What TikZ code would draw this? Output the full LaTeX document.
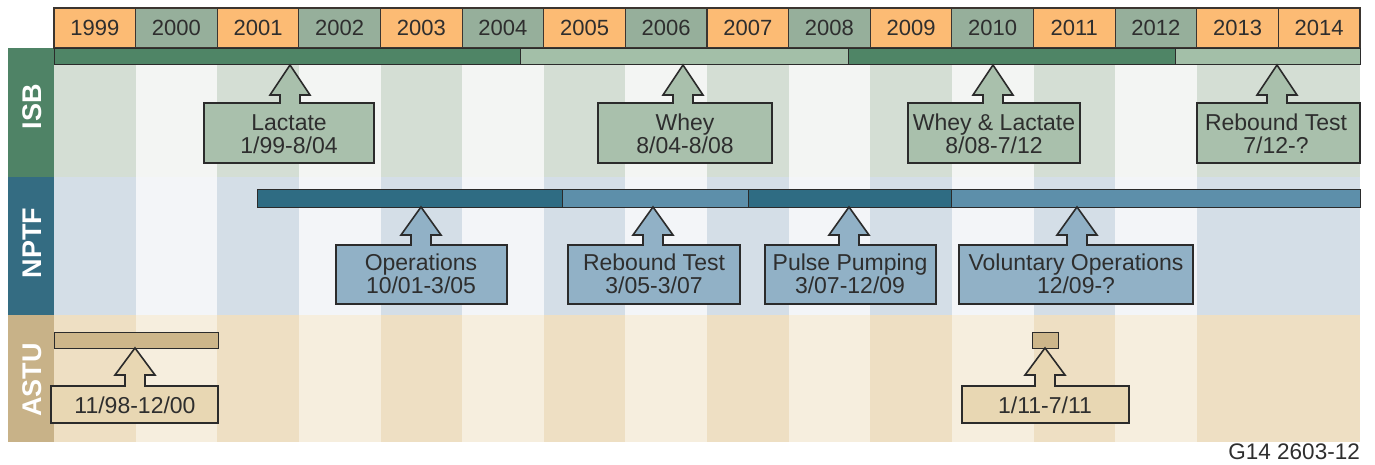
\documentclass[tikz,border=0pt]{standalone}
\usepackage{fontspec}
\setmainfont{Liberation Sans}
\definecolor{yo}{HTML}{FCBB74}
\definecolor{yg}{HTML}{96AF9B}
\definecolor{hdrline}{HTML}{3B3530}
\definecolor{outl}{HTML}{2B2B2B}
\definecolor{txt}{HTML}{2E2E2E}
\definecolor{isblab}{HTML}{4F8366}
\definecolor{nptflab}{HTML}{346C82}
\definecolor{astulab}{HTML}{C8B288}
\definecolor{isbdark}{HTML}{4F8566}
\definecolor{isblight}{HTML}{A3BFA8}
\definecolor{isbcall}{HTML}{A9C0AC}
\definecolor{nptfdark}{HTML}{2F6C83}
\definecolor{nptflight}{HTML}{5D8FAA}
\definecolor{nptfcall}{HTML}{91B1C6}
\definecolor{astubar}{HTML}{CDB68A}
\definecolor{astucall}{HTML}{E8D7B3}
\definecolor{isbS}{HTML}{D4DED4}
\definecolor{isbL}{HTML}{F3F5F3}
\definecolor{nptfS}{HTML}{D4DEE7}
\definecolor{nptfL}{HTML}{F3F5F8}
\definecolor{astuS}{HTML}{EEDFC3}
\definecolor{astuL}{HTML}{F6EEDE}
\tikzset{
  yearcell/.style={draw=hdrline, line width=1.2pt, inner sep=0pt,
    minimum width=81.625pt, minimum height=40pt, text=txt,
    font=\fontsize{22}{24}\selectfont},
  barseg/.style={draw=outl, line width=1pt},
  callout/.style={draw=outl, line width=1.6pt, line join=miter},
  ctext/.style={inner sep=0pt, align=center, text=txt,
    font=\fontsize{23}{22.5}\selectfont},
  sidelab/.style={rotate=90, text=white, inner sep=0pt,
    font=\fontsize{27}{29}\selectfont\bfseries}
}
\newcommand\mycallout[8]{%
  \draw[callout,fill=#8] (#1,#3) -- (#5-10,#3) -- (#5-10,#7) -- (#5-20,#7)
    -- (#5,#6) -- (#5+20,#7) -- (#5+10,#7) -- (#5+10,#3) -- (#2,#3)
    -- (#2,#4) -- (#1,#4) -- cycle;}
\begin{document}
\begin{tikzpicture}[x=1pt,y=-1pt]
\useasboundingbox (0,0) rectangle (1375,465);
\fill[white] (0,0) rectangle (1375,465);
% stripes
\foreach \s [count=\i from 0] in {S,L,S,L,S,L,S,L,S,L,S,L,S,L,S,S} {
  \pgfmathsetmacro\xl{54+\i*81.625}
  \pgfmathsetmacro\xr{54+(\i+1)*81.625}
  \fill[isb\s] (\xl,48) rectangle (\xr,177);
  \fill[nptf\s] (\xl,177) rectangle (\xr,315);
  \fill[astu\s] (\xl,315) rectangle (\xr,442);
}
% side labels
\fill[isblab] (8,48) rectangle (54,177);
\fill[nptflab] (8,177) rectangle (54,315);
\fill[astulab] (8,315) rectangle (54,442);
\node[sidelab] (lisb) at (32,107) {ISB};
\node[sidelab] (lnptf) at (32,243) {NPTF};
\node[sidelab] (lastu) at (32,380) {ASTU};
% header
\foreach \yr/\c [count=\i from 0] in {1999/yo,2000/yg,2001/yo,2002/yg,2003/yo,2004/yg,2005/yo,2006/yg,2007/yo,2008/yg,2009/yo,2010/yg,2011/yo,2012/yg,2013/yo,2014/yo} {
  \pgfmathsetmacro\xc{54+(\i+0.5)*81.625}
  \node[yearcell, fill=\c] (y\yr) at (\xc,28) {\yr};
}
% ISB bars
\draw[barseg, fill=isbdark] (54,49) rectangle (520,65);
\draw[barseg, fill=isblight] (520,49) rectangle (848,65);
\draw[barseg, fill=isbdark] (848,49) rectangle (1175,65);
\draw[barseg, fill=isblight] (1175,49) rectangle (1360,65);
% NPTF bars
\draw[barseg, fill=nptfdark] (257,190) rectangle (562,207);
\draw[barseg, fill=nptflight] (562,190) rectangle (748,207);
\draw[barseg, fill=nptfdark] (748,190) rectangle (951,207);
\draw[barseg, fill=nptflight] (951,190) rectangle (1360,207);
% ASTU bars
\draw[barseg, fill=astubar] (54,332) rectangle (218,348);
\draw[barseg, fill=astubar] (1032,332) rectangle (1058,348);
% ISB callouts
\mycallout{204}{374}{103}{163}{290}{65}{95}{isbcall}
\node[ctext] (c1) at (289,134) {Lactate\\1/99-8/04};
\mycallout{598}{772}{103}{163}{683}{65}{95}{isbcall}
\node[ctext] (c2) at (685,134) {Whey\\8/04-8/08};
\mycallout{908}{1080}{103}{163}{993}{65}{95}{isbcall}
\node[ctext] (c3) at (994,134) {Whey \& Lactate\\8/08-7/12};
\mycallout{1197}{1360}{103}{163}{1277}{65}{95}{isbcall}
\node[ctext] (c4) at (1276,134) {Rebound Test\\7/12-?};
% NPTF callouts
\mycallout{336}{507}{245}{304}{421}{207}{235}{nptfcall}
\node[ctext] (c5) at (421,274) {Operations\\10/01-3/05};
\mycallout{568}{740}{245}{304}{653}{207}{235}{nptfcall}
\node[ctext] (c6) at (654,274) {Rebound Test\\3/05-3/07};
\mycallout{765}{936}{245}{304}{849}{207}{235}{nptfcall}
\node[ctext] (c7) at (850,274) {Pulse Pumping\\3/07-12/09};
\mycallout{959}{1193}{245}{304}{1077}{207}{235}{nptfcall}
\node[ctext] (c8) at (1076,274) {Voluntary Operations\\12/09-?};
% ASTU callouts
\mycallout{51}{218}{386}{423}{135}{348}{375}{astucall}
\node[ctext] (c9) at (135,405) {11/98-12/00};
\mycallout{962}{1129}{386}{423}{1045}{348}{375}{astucall}
\node[ctext] (c10) at (1045,405) {1/11-7/11};
% figure id
\node[anchor=base east, inner sep=0pt, text=txt, font=\fontsize{22.5}{24}\selectfont] (fig) at (1360,459) {G14 2603-12};
\end{tikzpicture}
\end{document}
